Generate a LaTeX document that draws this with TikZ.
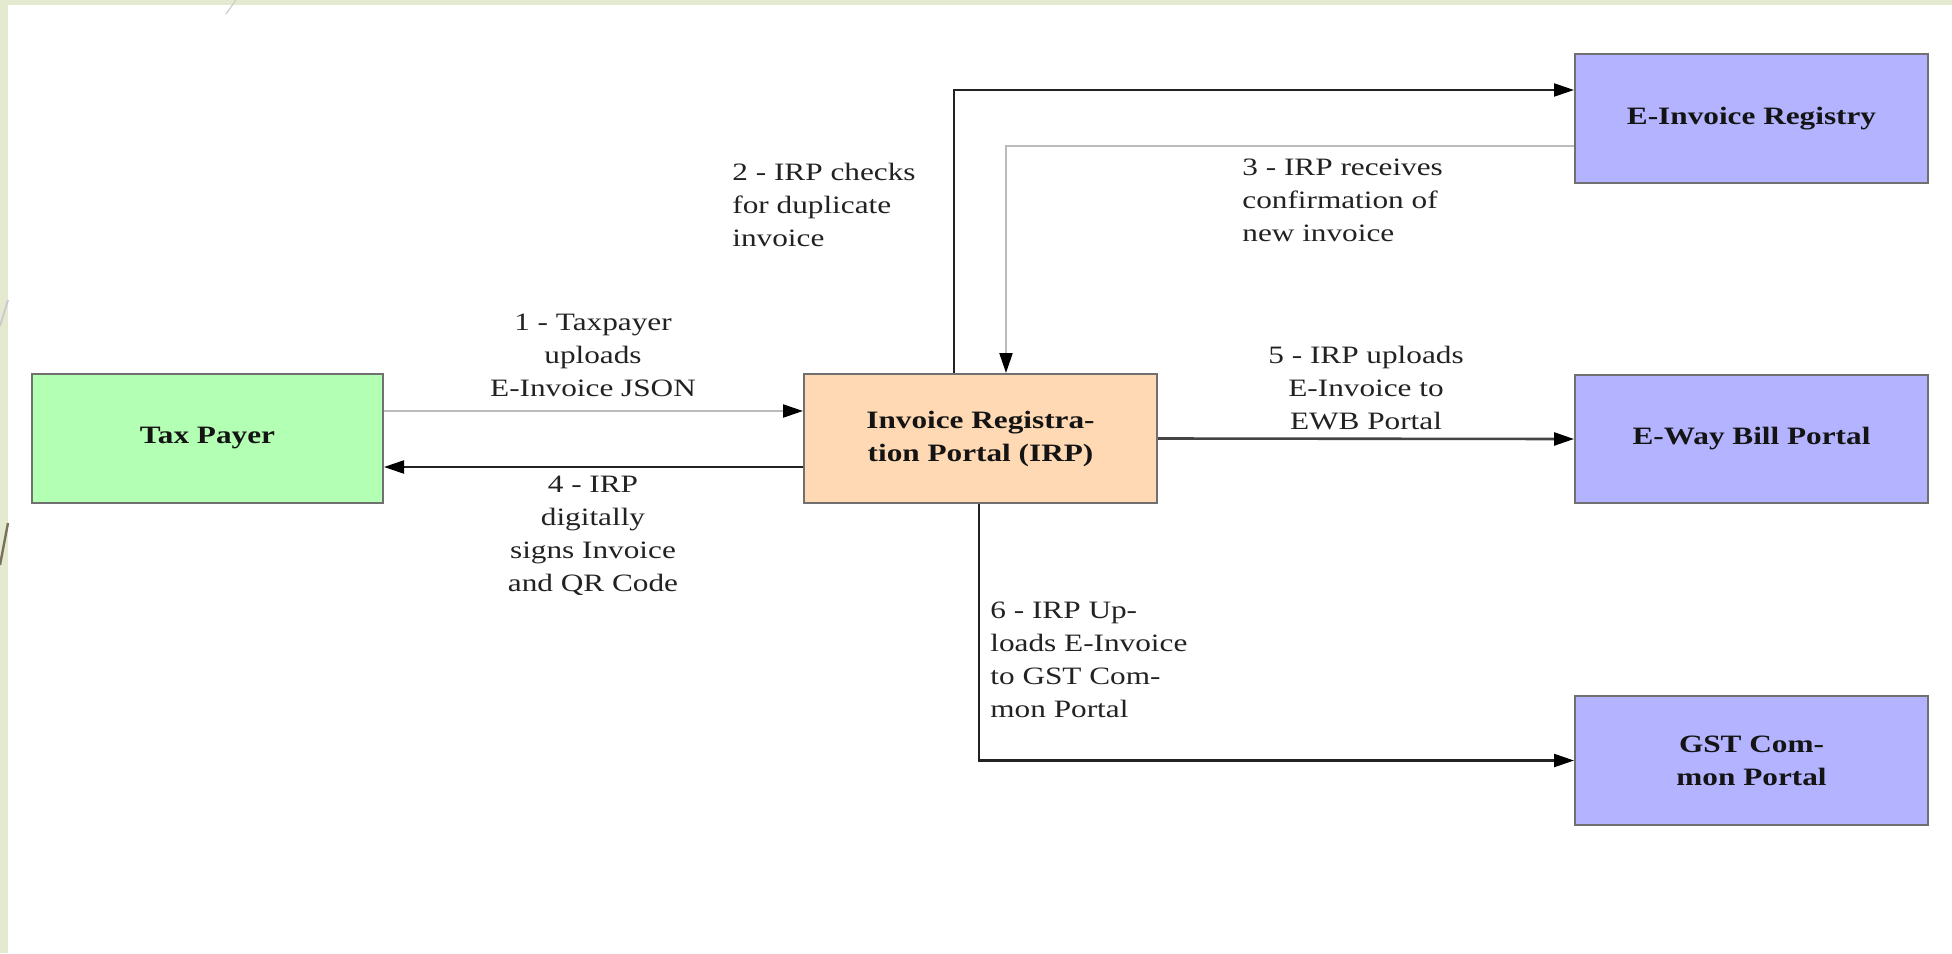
\documentclass[tikz,border=0pt]{standalone}
\usepackage{fontspec}
\setmainfont{Liberation Serif}
\usetikzlibrary{arrows.meta}
\definecolor{framebg}{HTML}{E4EACF}
\definecolor{boxline}{HTML}{707070}
\definecolor{greenfill}{HTML}{B3FFB3}
\definecolor{orangefill}{HTML}{FFD9B3}
\definecolor{bluefill}{HTML}{B3B3FF}
\definecolor{lighttrace}{HTML}{BBBBBB}
\definecolor{darktrace}{HTML}{222222}
\definecolor{midtrace}{HTML}{444444}
\definecolor{labeltext}{HTML}{222222}
\newcommand{\hstr}[1]{\scalebox{1.25}[1]{#1}}
\newcommand{\diagfont}{\fontsize{12.5pt}{16.5pt}\selectfont}
\tikzset{
  box/.style={draw=boxline, line width=1pt, inner sep=0pt, minimum width=176.5pt,
    minimum height=64.5pt, align=center, font=\diagfont\bfseries, text=black!92},
  lbl/.style={inner sep=0pt, font=\diagfont, text=labeltext},
  tip/.style={-{Triangle[length=10pt,width=6.5pt,color=black]}},
  lightarrow/.style={tip, draw=lighttrace, line width=1.1pt},
  darkarrow/.style={tip, draw=darktrace, line width=1.1pt},
  midarrow/.style={tip, draw=midtrace, line width=1.3pt}
}
\begin{document}
\begin{tikzpicture}[x=0.5pt,y=-0.5pt]
\useasboundingbox (0,0) rectangle (1952,953);
\fill[white] (0,0) rectangle (1952,953);
\fill[framebg] (0,0) rectangle (1952,5);
\fill[framebg] (0,0) rectangle (8,953);
\draw[color=black!20, line width=1pt] (0,326) -- (8,300);
\draw[color=black!20, line width=0.6pt] (226,14) -- (236,0);
\draw[color={rgb,255:red,122;green,114;blue,88}, line width=1.2pt] (0,565) -- (8,523);

\node[box, fill=greenfill, minimum width=175.5pt] (tp) at (207.5,438.5) {\hstr{Tax Payer}};
\node[box, fill=orangefill] (irp) at (980.5,438.5) {\hstr{Invoice Registra-}\\\hstr{tion Portal (IRP)}};
\node[box, fill=bluefill] (eir) at (1751.5,118.5) {\hstr{E-Invoice Registry}};
\node[box, fill=bluefill, minimum height=64pt] (ewb) at (1751.5,439) {\hstr{E-Way Bill Portal}};
\node[box, fill=bluefill] (gst) at (1751.5,760.5) {\hstr{GST Com-}\\\hstr{mon Portal}};

\draw[lightarrow] ([yshift=13.75pt]tp.east) -- ([yshift=13.75pt]irp.west);
\draw[darkarrow] ([yshift=-14.25pt]irp.west) -- ([yshift=-14.25pt]tp.east);
\draw[darkarrow] ([xshift=-13.25pt]irp.north) |- ([yshift=14.25pt]eir.west);
\draw[lightarrow] ([yshift=-13.75pt]eir.west) -| ([xshift=12.75pt]irp.north);
\draw[midarrow] (irp.east) -- (ewb.west);
\draw[darkarrow] ([xshift=-0.75pt]irp.south) |- (gst.west);

\node[lbl, align=center] (l1) at (593,355) {\hstr{1 - Taxpayer}\\\hstr{uploads}\\\hstr{E-Invoice JSON}};
\node[lbl, align=center] (l4) at (593,536) {\hstr{4 - IRP}\\\hstr{digitally}\\\hstr{signs Invoice}\\\hstr{and QR Code}};
\node[lbl, align=left, anchor=west] (l2) at (732,205) {\hstr{2 - IRP checks}\\\hstr{for duplicate}\\\hstr{invoice}};
\node[lbl, align=left, anchor=west] (l3) at (1242,200) {\hstr{3 - IRP receives}\\\hstr{confirmation of}\\\hstr{new invoice}};
\node[lbl, align=center] (l5) at (1366,388) {\hstr{5 - IRP uploads}\\\hstr{E-Invoice to}\\\hstr{EWB Portal}};
\node[lbl, align=left, anchor=west] (l6) at (990,660) {\hstr{6 - IRP Up-}\\\hstr{loads E-Invoice}\\\hstr{to GST Com-}\\\hstr{mon Portal}};
\end{tikzpicture}
\end{document}
